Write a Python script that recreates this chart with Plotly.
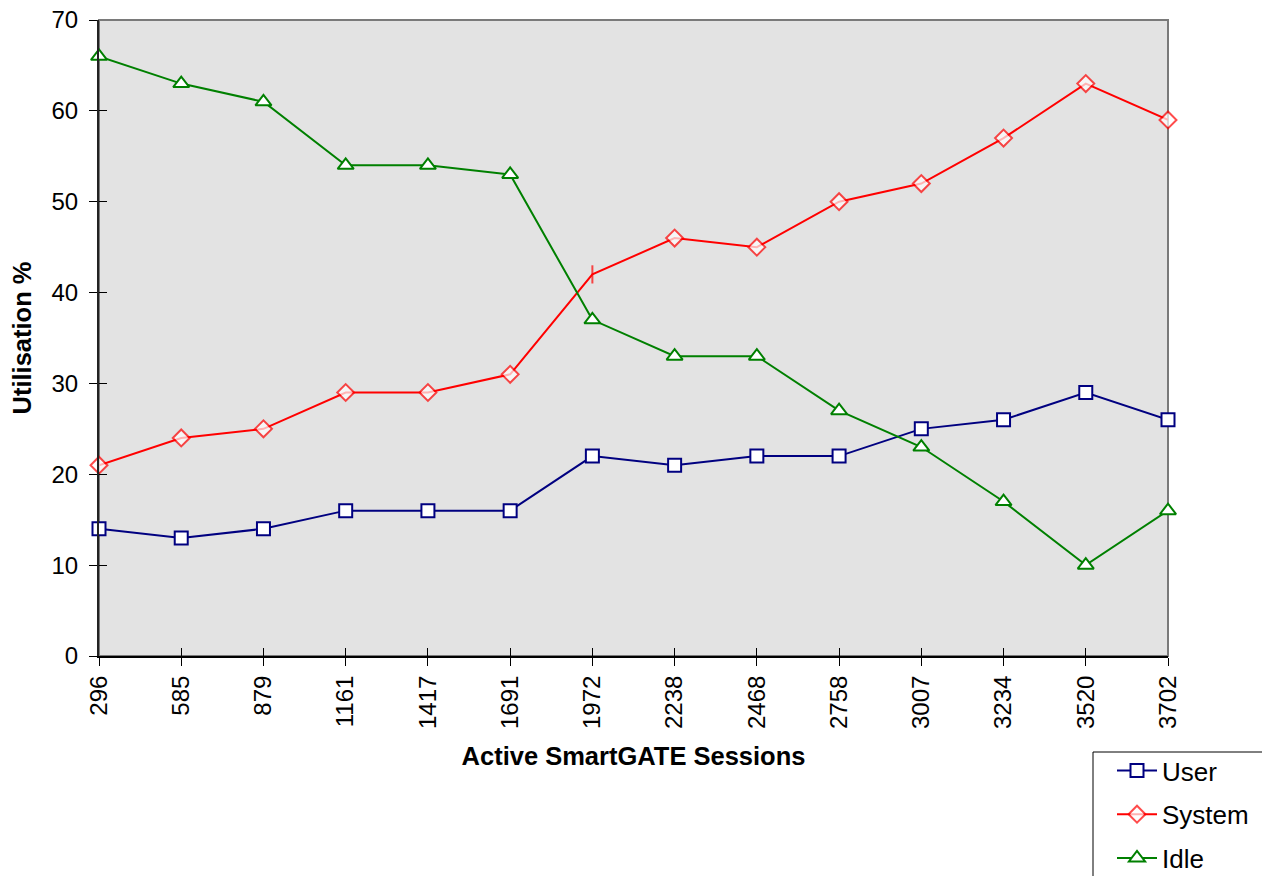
import plotly.graph_objects as go

sessions = ["296", "585", "879", "1161", "1417", "1691", "1972",
            "2238", "2468", "2758", "3007", "3234", "3520", "3702"]
user = [14, 13, 14, 16, 16, 16, 22, 21, 22, 22, 25, 26, 29, 26]
system = [21, 24, 25, 29, 29, 31, 42, 46, 45, 50, 52, 57, 63, 59]
idle = [66, 63, 61, 54, 54, 53, 37, 33, 33, 27, 23, 17, 10, 16]
y_ticks = [0, 10, 20, 30, 40, 50, 60, 70]

FONT = "Liberation Sans, Arial, sans-serif"
W, H = 1262, 876
L, R, T, B = 99, 94, 20, 220
PW, PH = W - L - R, H - T - B
idx = list(range(len(sessions)))

# the 1972 System point carries a vertical dash instead of a diamond
sys_symbols = ["diamond"] * len(sessions)
sys_symbols[6] = "line-ns"
sys_sizes = [13] * len(sessions)
sys_sizes[6] = 13

fig = go.Figure()
fig.add_trace(go.Scatter(
    x=idx, y=user, name="User", mode="lines+markers", legendgroup="u",
    line=dict(color="#000080", width=2),
    marker=dict(symbol="square", size=13, color="white",
                line=dict(color="#000080", width=2)),
    cliponaxis=False))
fig.add_trace(go.Scatter(
    x=idx, y=system, name="System", mode="lines+markers", legendgroup="s",
    line=dict(color="#FF0000", width=2),
    marker=dict(symbol=sys_symbols, size=sys_sizes, color="white",
                line=dict(color="#FF0000", width=2)),
    cliponaxis=False))
fig.add_trace(go.Scatter(
    x=idx, y=idle, name="Idle", mode="lines+markers", legendgroup="i",
    line=dict(color="#008000", width=2),
    marker=dict(symbol="triangle-up", size=14, color="white",
                line=dict(color="#008000", width=2)),
    cliponaxis=False))

# plot-area frame (top and right edges in grey)
fig.add_shape(type="rect", xref="paper", yref="paper", x0=0, x1=1, y0=0, y1=1,
              line=dict(color="#7a7a7a", width=2), fillcolor="rgba(0,0,0,0)",
              layer="below")


def px_x(p):
    return (p - L) / PW


def px_y(p):
    return (H - B - p) / PH


# legend frame running off the lower-right corner of the page
fig.add_shape(type="rect", xref="paper", yref="paper",
              x0=px_x(1093), x1=px_x(1300), y0=px_y(752), y1=px_y(920),
              line=dict(color="black", width=1), fillcolor="white",
              layer="below")

fig.update_layout(
    width=W, height=H,
    margin=dict(l=L, r=R, t=T, b=B, autoexpand=False),
    paper_bgcolor="white", plot_bgcolor="#E3E3E3",
    font=dict(family=FONT, size=24, color="black"),
    showlegend=True,
    legend=dict(x=px_x(1112), y=px_y(747), xref="paper", yref="paper",
                xanchor="left", yanchor="top",
                font=dict(family=FONT, size=26, color="black"),
                borderwidth=0, bgcolor="rgba(0,0,0,0)",
                traceorder="grouped", tracegroupgap=7, itemwidth=40),
    xaxis=dict(
        tickmode="array", tickvals=idx, ticktext=sessions,
        range=[0, len(sessions) - 1], tickangle=-90,
        showgrid=False, zeroline=False,
        showline=True, linecolor="black", linewidth=2,
        ticks="outside", ticklen=8, tickcolor="black", tickwidth=1,
        tickfont=dict(family=FONT, size=24),
        title=dict(text="<b>Active SmartGATE Sessions</b>",
                   font=dict(family=FONT, size=25.5), standoff=19),
    ),
    yaxis=dict(
        range=[0, 70], tickmode="array", tickvals=y_ticks,
        showgrid=False, zeroline=False,
        showline=True, linecolor="#222222", linewidth=2,
        ticks="outside", ticklen=8, tickcolor="black", tickwidth=1,
        ticklabelstandoff=6,
        tickfont=dict(family=FONT, size=24),
        title=dict(text="<b>Utilisation %</b>",
                   font=dict(family=FONT, size=25.5), standoff=13),
    ),
    # inner halves of the crossing tick marks
    xaxis2=dict(overlaying="x", range=[0, len(sessions) - 1],
                tickmode="array", tickvals=idx, ticktext=[""] * len(idx),
                ticks="inside", ticklen=8, tickcolor="black", tickwidth=1,
                showgrid=False, zeroline=False, showline=False,
                anchor="y", side="bottom"),
    yaxis2=dict(overlaying="y", range=[0, 70], tickmode="array",
                tickvals=y_ticks, ticktext=[""] * len(y_ticks),
                ticks="inside", ticklen=8, tickcolor="black", tickwidth=1,
                showgrid=False, zeroline=False, showline=False,
                anchor="x", side="left"),
)
fig.add_trace(go.Scatter(x=[0], y=[0], xaxis="x2", yaxis="y2",
                         mode="markers", marker=dict(opacity=0),
                         showlegend=False, hoverinfo="skip"))

fig.write_html("out.html")
